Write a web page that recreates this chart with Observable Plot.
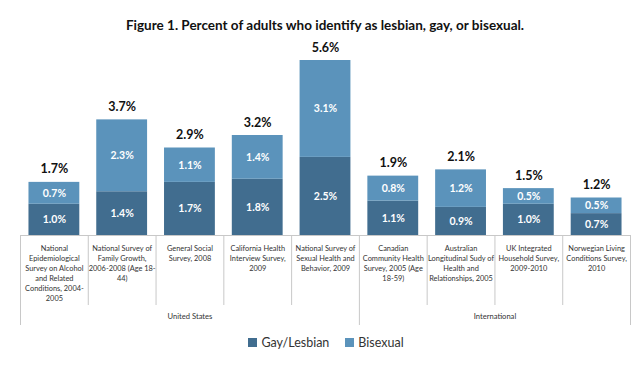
<!DOCTYPE html>
<html><head><meta charset="utf-8">
<script src="https://cdn.jsdelivr.net/npm/d3@7"></script>
<script src="https://cdn.jsdelivr.net/npm/@observablehq/plot@0.6"></script>
<style>
body{margin:0;background:#fff;font-family:Lato,"Open Sans",sans-serif;}
#wrap{width:640px;height:375px;position:relative;overflow:hidden;background:#fff}
#title{height:36px;box-sizing:border-box;padding-top:17px;padding-left:10px;text-align:center;font-weight:700;font-size:13.5px;line-height:16px;color:#111}
#legend{height:20px;box-sizing:border-box;padding-left:12px;display:flex;justify-content:center;align-items:center;gap:16px;font-size:12.5px;color:#333}
#legend span.it{display:flex;align-items:center}
.sw{display:inline-block;width:9px;height:9px;margin-right:4px}
</style></head>
<body><div id="wrap"><div id="title">Figure 1. Percent of adults who identify as lesbian, gay, or bisexual.</div><div id="chart"></div><div id="legend"></div></div>
<script>
const surveys = [
  "National\nEpidemiological\nSurvey on Alcohol\nand Related\nConditions, 2004-\n2005",
  "National Survey of\nFamily Growth,\n2006-2008 (Age 18-\n44)",
  "General Social\nSurvey, 2008",
  "California Health\nInterview Survey,\n2009",
  "National Survey of\nSexual Health and\nBehavior, 2009",
  "Canadian\nCommunity Health\nSurvey, 2005 (Age\n18-59)",
  "Australian\nLongitudinal Sudy of\nHealth and\nRelationships, 2005",
  "UK Integrated\nHousehold Survey,\n2009-2010",
  "Norwegian Living\nConditions Survey,\n2010"
];
const groups = ["United States","United States","United States","United States","United States",
  "International","International","International","International"];
const gayLesbian = [1.0, 1.4, 1.7, 1.8, 2.5, 1.1, 0.9, 1.0, 0.7];
const bisexual   = [0.7, 2.3, 1.1, 1.4, 3.1, 0.8, 1.2, 0.5, 0.5];
const totals     = [1.7, 3.7, 2.9, 3.2, 5.6, 1.9, 2.1, 1.5, 1.2];
const seriesNames = ["Gay/Lesbian", "Bisexual"];
const seriesColors = ["#416d8f", "#5b93bb"];

const W = 640, H = 296, mL = 20, mR = 10, mT = 11.5, mB = 97;
const step = (W - mL - mR) / surveys.length;

const rows = [];
surveys.forEach((s, i) => rows.push({survey: s, type: seriesNames[0], value: gayLesbian[i]}));
surveys.forEach((s, i) => rows.push({survey: s, type: seriesNames[1], value: bisexual[i]}));
const tops = surveys.map((s, i) => ({survey: s, top: gayLesbian[i] + bisexual[i], label: totals[i].toFixed(1) + "%"}));
const cats = surveys.map((s, i) => ({survey: s, first: i === 0 || groups[i] !== groups[i - 1]}));
const groupNames = [...new Set(groups)];
const groupRows = groupNames.map(g => {
  const idx = groups.map((x, i) => x === g ? i : -1).filter(i => i >= 0);
  const mid = (idx[0] + idx[idx.length - 1]) / 2;
  const f = Math.floor(mid);
  return {survey: surveys[f], off: (mid - f) * step, name: g};
});

const grid = "#c8c8c8";
const chart = Plot.plot({
  width: W, height: H,
  marginLeft: mL, marginRight: mR, marginTop: mT, marginBottom: mB,
  style: {fontFamily: "Lato, 'Open Sans', sans-serif", background: "#fff", overflow: "visible"},
  x: {domain: surveys, paddingInner: 0.25, paddingOuter: 0.125, round: false, axis: null},
  y: {domain: [0, 6], axis: null},
  color: {domain: seriesNames, range: seriesColors},
  marks: [
    Plot.ruleY([0], {stroke: grid}),
    Plot.ruleX(cats.filter(c => !c.first), {x: "survey", y1: 0, y2: 0, dx: -step / 2, insetBottom: -70, stroke: grid}),
    Plot.ruleX(cats.filter(c => c.first), {x: "survey", y1: 0, y2: 0, dx: -step / 2, insetBottom: -90, stroke: grid}),
    Plot.ruleX([surveys[surveys.length - 1]], {x: d => d, y1: 0, y2: 0, dx: step / 2, insetBottom: -90, stroke: grid}),
    Plot.barY(rows, {x: "survey", y: "value", fill: "type"}),
    Plot.text(rows, Plot.stackY({x: "survey", y: "value", z: "type",
      text: d => d.value.toFixed(1) + "%", fill: "white", fontWeight: 700, fontSize: 10.5})),
    Plot.text(tops, {x: "survey", y: "top", text: "label", dy: -13, fontWeight: 700, fontSize: 12.5, fill: "#111"}),
    Plot.text(surveys, {x: d => d, text: d => d, frameAnchor: "bottom", lineAnchor: "top", dy: 8,
      fontSize: 7.4, lineHeight: 1.35, fill: "#333"}),
    ...groupRows.map(g => Plot.text([g], {x: "survey", text: "name", frameAnchor: "bottom", dy: 83, dx: g.off,
      fontSize: 7.6, fill: "#333"}))
  ]
});
document.getElementById("chart").appendChild(chart);

const legend = document.getElementById("legend");
seriesNames.forEach((n, i) => {
  const it = document.createElement("span");
  it.className = "it";
  const sw = document.createElement("span");
  sw.className = "sw";
  sw.style.background = seriesColors[i];
  it.appendChild(sw);
  it.appendChild(document.createTextNode(n));
  legend.appendChild(it);
});
</script>
</body></html>
